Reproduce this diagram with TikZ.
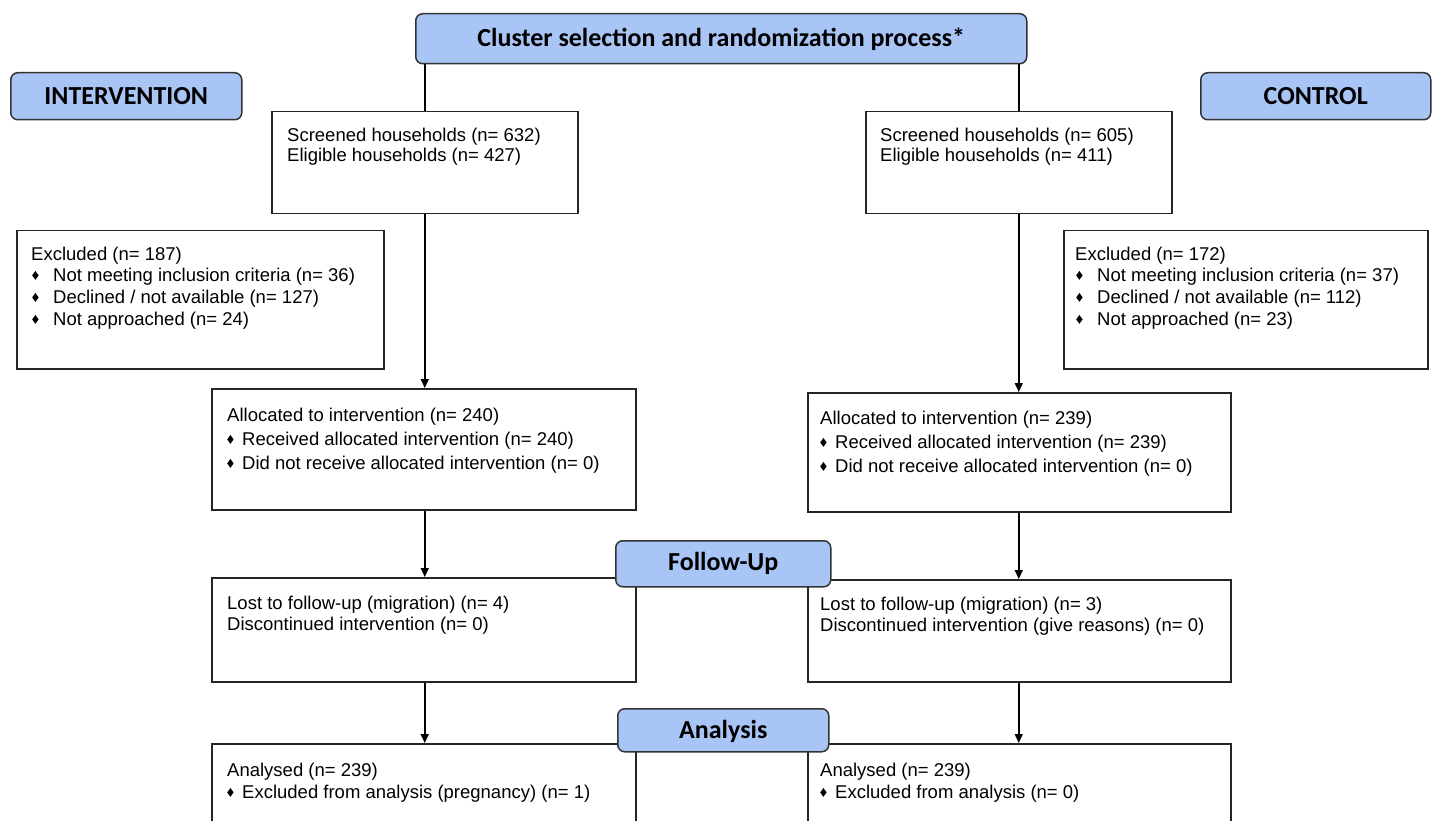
\documentclass[tikz,border=0pt]{standalone}
\usepackage{fontspec}
\setmainfont{Liberation Sans}
\newfontfamily\lblfont{Carlito}
\usetikzlibrary{arrows.meta,calc}
\definecolor{hdrblue}{RGB}{168,197,245}
\newcommand\dia{\tikz[baseline=0pt]\fill[black] (0pt,1.8pt) -- (3.2pt,6.2pt) -- (0pt,10.6pt) -- (-3.2pt,6.2pt) -- cycle;}
\begin{document}
\begin{tikzpicture}[x=1pt,y=-1pt,
  box/.style={draw=black!85, line width=1.5pt, anchor=north west, inner sep=0pt},
  hdr/.style={draw=black!80, line width=1.5pt, fill=hdrblue, rounded corners=7pt, anchor=north west, inner sep=0pt, font=\lblfont\bfseries\fontsize{26}{30}\selectfont},
  txt/.style={anchor=north west, inner sep=0pt, align=left, font=\fontsize{18.5}{21}\selectfont},
  arr/.style={line width=1.5pt, -{Triangle[length=9pt,width=8pt]}},
  ln/.style={line width=1.5pt}]
\useasboundingbox (0,0) rectangle (1432,821);
\clip (0,0) rectangle (1432,821);

% boxes
\node[box, minimum width=306pt, minimum height=102pt] (scrL) at (271,111) {};
\node[box, minimum width=306pt, minimum height=102pt] (scrR) at (865,111) {};
\node[box, minimum width=367pt, minimum height=138pt] (exL) at (16,230) {};
\node[box, minimum width=364pt, minimum height=138pt] (exR) at (1063,230) {};
\node[box, minimum width=424pt, minimum height=121pt] (alL) at (211,388) {};
\node[box, minimum width=423pt, minimum height=119pt] (alR) at (807,392) {};
\node[box, minimum width=424pt, minimum height=104pt] (loL) at (211,577) {};
\node[box, minimum width=423pt, minimum height=102pt] (loR) at (807,579) {};
\node[box, minimum width=424pt, minimum height=120pt] (anL) at (211,743) {};
\node[box, minimum width=423pt, minimum height=120pt] (anR) at (807,743) {};

% headers
\node[hdr, minimum width=611pt, minimum height=50pt] (top) at (415,13) {Cluster selection and randomization process*};
\node[hdr, minimum width=231pt, minimum height=47pt] (int) at (10,72) {INTERVENTION};
\node[hdr, minimum width=230pt, minimum height=47pt] (ctl) at (1200,72) {CONTROL};
\node[hdr, minimum width=215pt, minimum height=46pt] (fu) at (615,540) {Follow-Up};
\node[hdr, minimum width=211pt, minimum height=43pt, text depth=2pt] (an) at (617,708) {Analysis};

% texts
\node[txt] (t1) at (287,128) {Screened households (n= 632)\\[-1pt]Eligible households (n= 427)};
\node[txt] (t2) at (880,128) {Screened households (n= 605)\\[-1pt]Eligible households (n= 411)};
\node[txt] (t3) at (31,247) {Excluded (n= 187)\\
\hspace*{1pt}\makebox[21pt][l]{\dia}Not meeting inclusion criteria (n= 36)\\[1pt]
\hspace*{1pt}\makebox[21pt][l]{\dia}Declined / not available (n= 127)\\[1pt]
\hspace*{1pt}\makebox[21pt][l]{\dia}Not approached (n= 24)};
\node[txt] (t4) at (1075,247) {Excluded (n= 172)\\
\hspace*{1pt}\makebox[21pt][l]{\dia}Not meeting inclusion criteria (n= 37)\\[1pt]
\hspace*{1pt}\makebox[21pt][l]{\dia}Declined / not available (n= 112)\\[1pt]
\hspace*{1pt}\makebox[21pt][l]{\dia}Not approached (n= 23)};
\node[txt] (t5) at (227,408) {Allocated to intervention (n= 240)\\[3pt]
\makebox[15pt][l]{\dia}Received allocated intervention (n= 240)\\[3pt]
\makebox[15pt][l]{\dia}Did not receive allocated intervention (n= 0)};
\node[txt] (t6) at (820,411) {Allocated to intervention (n= 239)\\[3pt]
\makebox[15pt][l]{\dia}Received allocated intervention (n= 239)\\[3pt]
\makebox[15pt][l]{\dia}Did not receive allocated intervention (n= 0)};
\node[txt] (t7) at (227,596) {Lost to follow-up (migration) (n= 4)\\Discontinued intervention (n= 0)};
\node[txt] (t8) at (820,597) {Lost to follow-up (migration) (n= 3)\\Discontinued intervention (give reasons) (n= 0)};
\node[txt] (t9) at (227,763) {Analysed (n= 239)\\[1pt]
\makebox[15pt][l]{\dia}Excluded from analysis (pregnancy) (n= 1)};
\node[txt] (t10) at (820,763) {Analysed (n= 239)\\[1pt]
\makebox[15pt][l]{\dia}Excluded from analysis (n= 0)};

% connectors
\draw[ln] (scrL.north |- top.south) -- (scrL.north);
\draw[ln] (scrR.north |- top.south) -- (scrR.north);
\draw[arr] (scrL.south) -- (scrL.south |- alL.north);
\draw[arr] (alL.south -| scrL.south) -- (scrL.south |- loL.north);
\draw[arr] (loL.south -| scrL.south) -- (scrL.south |- anL.north);
\draw[arr] (scrR.south) -- (scrR.south |- alR.north);
\draw[arr] (alR.south -| scrR.south) -- (scrR.south |- loR.north);
\draw[arr] (loR.south -| scrR.south) -- (scrR.south |- anR.north);
\end{tikzpicture}
\end{document}
